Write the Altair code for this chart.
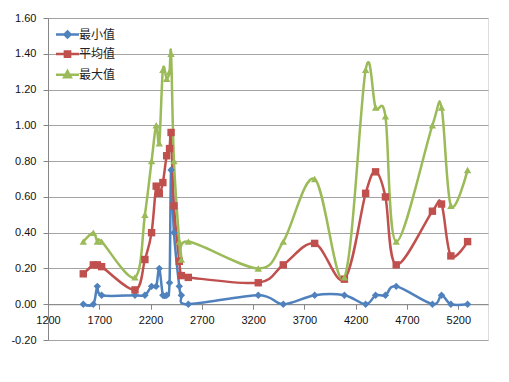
import altair as alt
import pandas as pd

series_names = ["最小值", "平均值", "最大值"]
series_colors = ["#4F81BD", "#C0504D", "#9BBB59"]
series_shapes = ["diamond", "square", "triangle-up"]

x_values = [1544, 1642, 1681, 1723, 2048, 2145, 2210, 2255, 2285, 2320, 2357, 2385, 2400,
            2428, 2480, 2500, 2568, 3250, 3494, 3800, 4090, 4297, 4394, 4490, 4595,
            4948, 5037, 5128, 5291]
min_values = [0.00, 0.00, 0.10, 0.05, 0.05, 0.05, 0.10, 0.10, 0.20, 0.05, 0.05, 0.12, 0.75,
              0.40, 0.10, 0.05, 0.00, 0.05, 0.00, 0.05, 0.05, 0.00, 0.05, 0.05, 0.10,
              0.00, 0.05, 0.00, 0.00]
avg_values = [0.17, 0.22, 0.22, 0.21, 0.08, 0.25, 0.40, 0.66, 0.62, 0.68, 0.83, 0.87, 0.96,
              0.55, 0.24, 0.16, 0.15, 0.12, 0.22, 0.34, 0.14, 0.62, 0.74, 0.60, 0.22,
              0.52, 0.56, 0.27, 0.35]
max_values = [0.35, 0.40, 0.35, 0.35, 0.15, 0.50, 0.80, 1.00, 0.90, 1.31, 1.26, 1.30, 1.40,
              0.80, 0.35, 0.25, 0.35, 0.20, 0.35, 0.70, 0.15, 1.31, 1.10, 1.05, 0.35,
              1.00, 1.10, 0.55, 0.75]

x_ticks = [1200, 1700, 2200, 2700, 3200, 3700, 4200, 4700, 5200]
y_ticks = [-0.2, 0.0, 0.2, 0.4, 0.6, 0.8, 1.0, 1.2, 1.4, 1.6]

rows = []
for name, vals in zip(series_names, [min_values, avg_values, max_values]):
    for i, (xv, yv) in enumerate(zip(x_values, vals)):
        rows.append({"series": name, "x": xv, "y": yv, "order": i})
df = pd.DataFrame(rows)

W, H = 440, 322
y_min, y_max = -0.2, 1.6
x_axis_offset = -H * (0 - y_min) / (y_max - y_min)

x_scale = alt.Scale(domain=[1200, 5490], nice=False, zero=False)
y_scale = alt.Scale(domain=[y_min, y_max], nice=False, zero=False)

axis_color = "#868686"
label_font = "Liberation Sans"

x_enc = alt.X(
    "x:Q", scale=x_scale,
    axis=alt.Axis(values=x_ticks, format="d", title=None, grid=False,
                  offset=x_axis_offset, tickSize=5, labelPadding=5,
                  domainColor=axis_color, tickColor=axis_color,
                  labelFont=label_font, labelFontSize=11, labelColor="#111111",
                  labelFlush=False, labelOverlap=False),
)
y_enc = alt.Y(
    "y:Q", scale=y_scale,
    axis=alt.Axis(values=y_ticks, title=None, grid=True, gridColor="#A3A3A3",
                  labelExpr="replace(format(datum.value, '.2f'), '\u2212', '-')",
                  tickSize=5, labelPadding=7,
                  domainColor=axis_color, tickColor=axis_color,
                  labelFont=label_font, labelFontSize=11, labelColor="#111111"),
)

# legend symbols: line segment with a (stroke-filled) marker
p_diamond = ("M-1.6,0L1.6,0M0,-0.42L0.42,0L0,0.42L-0.42,0Z"
             "M0,-0.18L0.18,0L0,0.18L-0.18,0Z")
p_square = ("M-1.6,0L1.6,0M-0.36,-0.36L0.36,-0.36L0.36,0.36L-0.36,0.36Z"
            "M-0.14,-0.14L0.14,-0.14L0.14,0.14L-0.14,0.14Z")
p_triangle = ("M-1.6,0L1.6,0M0,-0.5L0.46,0.34L-0.46,0.34Z"
              "M0,-0.16L0.18,0.18L-0.18,0.18Z")
legend_paths = [p_diamond, p_square, p_triangle]

legend = alt.Legend(
    title=None, orient="none", legendX=11, legendY=8,
    symbolSize=207, symbolStrokeWidth=2.5, rowPadding=2.6, labelOffset=3,
    labelFont="Noto Sans CJK SC", labelFontSize=12, labelColor="#222222",
    padding=0,
)

base = alt.Chart(df)

layers = []
for name, col, shp in zip(series_names, series_colors, series_shapes):
    sub = base.transform_filter(alt.datum.series == name)
    layers.append(
        sub.mark_line(interpolate="cardinal", strokeWidth=2.5, color=col)
        .encode(x=x_enc, y=y_enc, order="order:Q")
    )
for name, col, shp in zip(series_names, series_colors, series_shapes):
    sub = base.transform_filter(alt.datum.series == name)
    layers.append(
        sub.mark_point(filled=True, size=55, opacity=1, shape=shp, color=col)
        .encode(x=x_enc, y=y_enc)
    )

legend_layer = base.transform_filter("false").mark_point(filled=False, opacity=1).encode(
    x=x_enc, y=y_enc,
    fill=alt.Fill("series:N", scale=alt.Scale(domain=series_names, range=series_colors), legend=legend),
    stroke=alt.Stroke("series:N", scale=alt.Scale(domain=series_names, range=series_colors), legend=legend),
    shape=alt.Shape("series:N", scale=alt.Scale(domain=series_names, range=legend_paths), legend=legend),
)
layers.append(legend_layer)

chart = alt.layer(*layers).properties(
    width=W, height=H,
    autosize=alt.AutoSizeParams(type="none"),
    padding={"left": 40, "top": 10, "right": 13, "bottom": 30},
).configure_view(stroke=None).configure(background="white")

chart.save("out.html", embed_options={"renderer": "svg", "actions": False})
